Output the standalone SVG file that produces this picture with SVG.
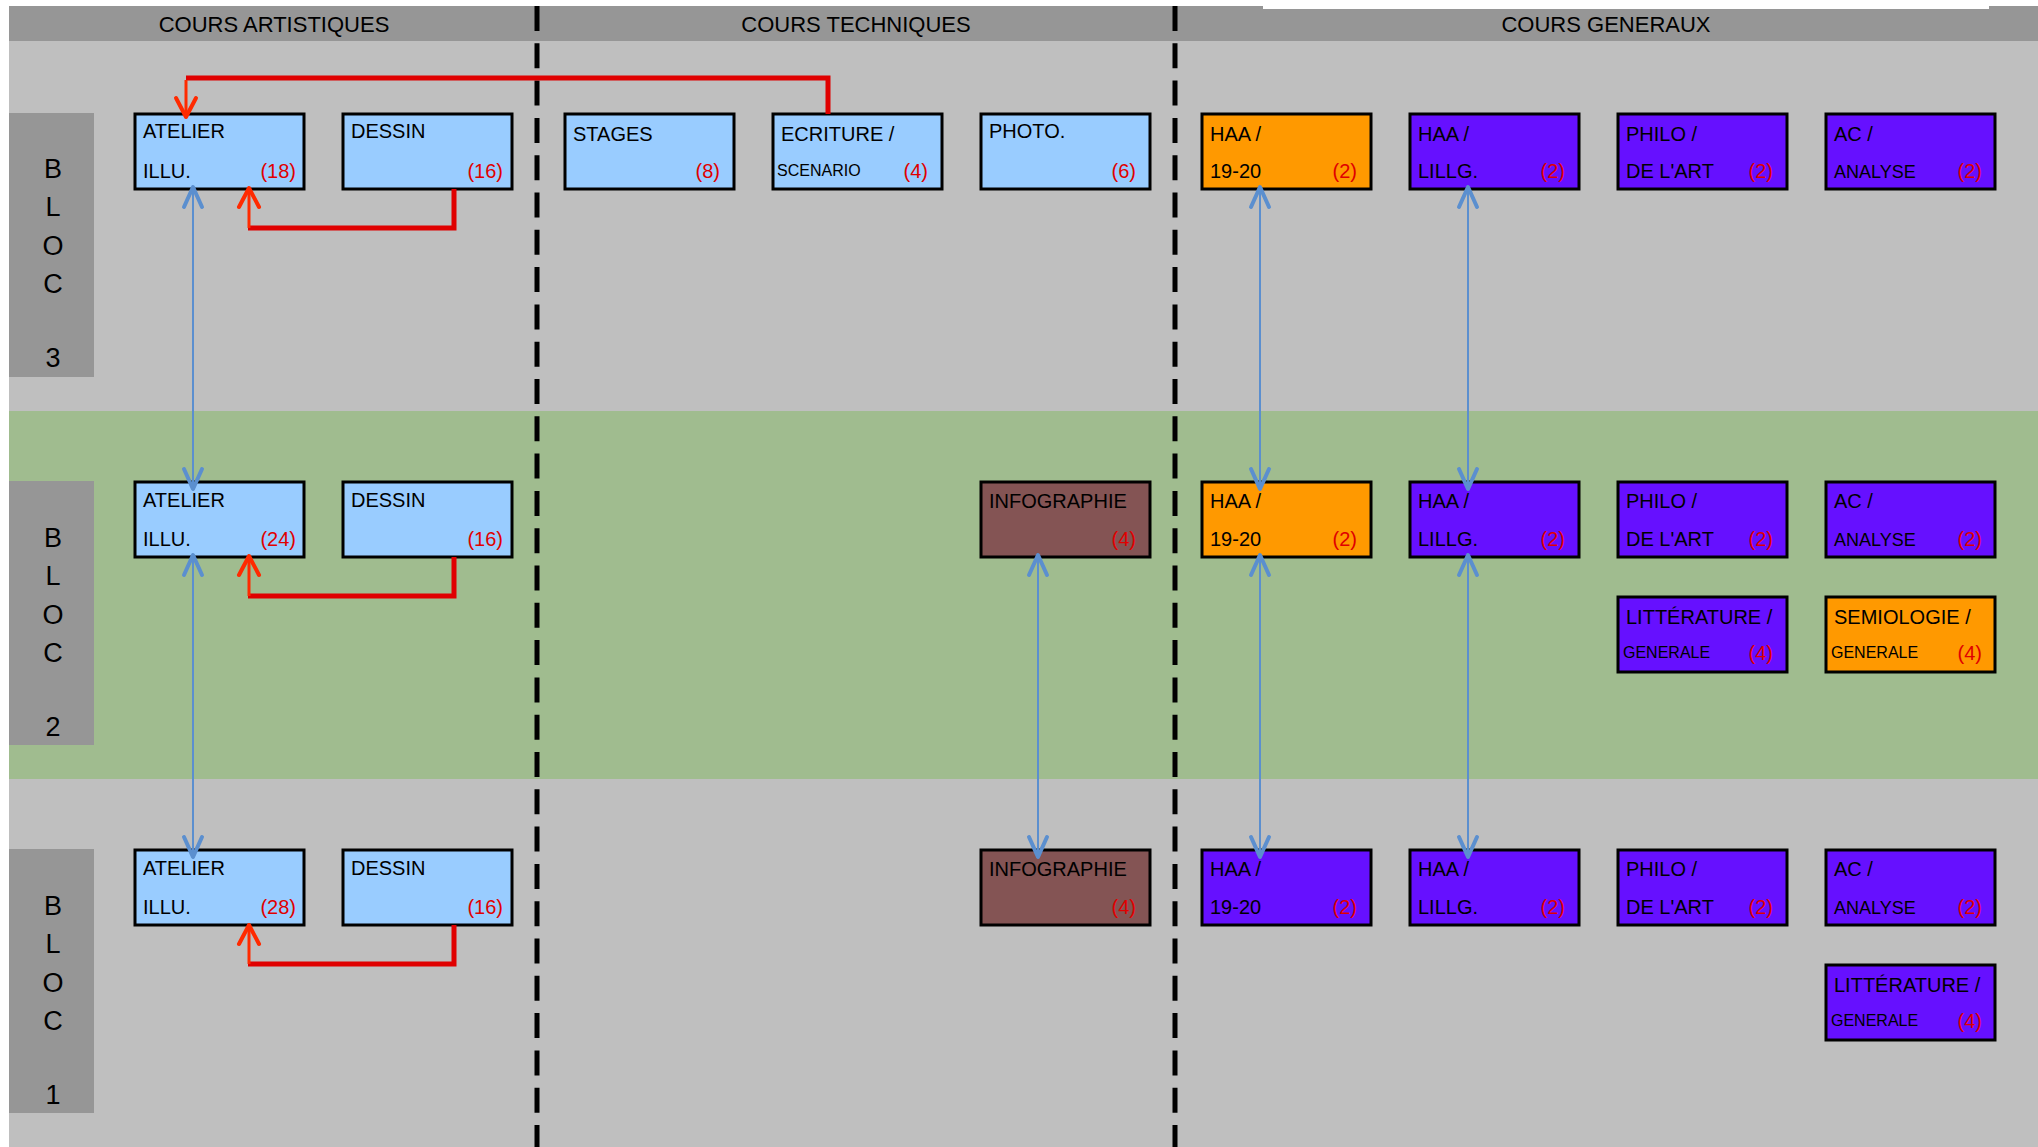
<svg xmlns="http://www.w3.org/2000/svg" width="2038" height="1147" viewBox="0 0 2038 1147">
<style>
text{font-family:"Liberation Sans",Arial,sans-serif;fill:#000}
.hdr{font-size:22px;text-anchor:middle}
.bloc{font-size:27px;text-anchor:middle}
.box{stroke:#000;stroke-width:3}
.lb{fill:#99CCFF}
.or{fill:#FF9900}
.pu{fill:#6610FF}
.br{fill:#845454}
.t{font-size:20px}
.s{font-size:16px}
.m{font-size:18px}
.n{font-size:20px;fill:#E00000;text-anchor:end}
.dash{stroke:#000;stroke-width:5;stroke-dasharray:25 12.3}
.blue{stroke:#5B8FCF;stroke-width:2;fill:none;marker-start:url(#ab);marker-end:url(#ab)}
.red{stroke:#E00000;stroke-width:5;fill:none}
.rarr{stroke:#FF2A00;stroke-width:3;fill:none;marker-end:url(#ar)}
</style>
<defs>
<marker id="ab" markerUnits="userSpaceOnUse" viewBox="-24 -14 28 28" refX="0" refY="0" markerWidth="28" markerHeight="28" orient="auto-start-reverse">
<path d="M-20,-9 L0,0 L-20,9" fill="none" stroke="#5B8FCF" stroke-width="4" stroke-linecap="round" stroke-linejoin="round"/>
</marker>
<marker id="ar" markerUnits="userSpaceOnUse" viewBox="-24 -14 28 28" refX="0" refY="0" markerWidth="28" markerHeight="28" orient="auto">
<path d="M-19,-10 L0,0 L-19,10" fill="none" stroke="#FF2A00" stroke-width="4" stroke-linecap="round" stroke-linejoin="round"/>
</marker>
</defs>

<g id="background">
<rect x="0" y="0" width="2038" height="1147" fill="#FFFFFF"/>
<rect x="9" y="41" width="2029" height="1106" fill="#BFBFBF"/>
<rect x="9" y="411" width="2029" height="368" fill="#A0BC8F"/>
<rect x="9" y="6" width="2029" height="35" fill="#969696"/>
<rect x="1263" y="6" width="726" height="3" fill="#FFFFFF"/>
<text class="hdr" x="274" y="32">COURS ARTISTIQUES</text>
<text class="hdr" x="856" y="32">COURS TECHNIQUES</text>
<text class="hdr" x="1606" y="32">COURS GENERAUX</text>
<line class="dash" x1="537" y1="6" x2="537" y2="1147"/>
<line class="dash" x1="1175" y1="6" x2="1175" y2="1147"/>
</g>

<g id="bloc3">
<rect x="9" y="113" width="85" height="264" fill="#969696"/>
<text class="bloc" x="53" y="178">B</text><text class="bloc" x="53" y="216">L</text><text class="bloc" x="53" y="255">O</text><text class="bloc" x="53" y="293">C</text><text class="bloc" x="53" y="367">3</text>
</g>
<g id="bloc2">
<rect x="9" y="481" width="85" height="264" fill="#969696"/>
<text class="bloc" x="53" y="547">B</text><text class="bloc" x="53" y="585">L</text><text class="bloc" x="53" y="624">O</text><text class="bloc" x="53" y="662">C</text><text class="bloc" x="53" y="736">2</text>
</g>
<g id="bloc1">
<rect x="9" y="849" width="85" height="264" fill="#969696"/>
<text class="bloc" x="53" y="915">B</text><text class="bloc" x="53" y="953">L</text><text class="bloc" x="53" y="992">O</text><text class="bloc" x="53" y="1030">C</text><text class="bloc" x="53" y="1104">1</text>
</g>

<!-- BLOC 3 -->
<g id="b3-atelier"><rect class="box lb" x="135" y="114" width="169" height="75"/><text class="t" x="143" y="138">ATELIER</text><text class="t" x="143" y="178">ILLU.</text><text class="n" x="296" y="178">(18)</text></g>
<g id="b3-dessin"><rect class="box lb" x="343" y="114" width="169" height="75"/><text class="t" x="351" y="138">DESSIN</text><text class="n" x="503" y="178">(16)</text></g>
<g id="b3-stages"><rect class="box lb" x="565" y="114" width="169" height="75"/><text class="t" x="573" y="141">STAGES</text><text class="n" x="720" y="178">(8)</text></g>
<g id="b3-ecriture"><rect class="box lb" x="773" y="114" width="169" height="75"/><text class="t" x="781" y="141">ECRITURE /</text><text class="s" x="777" y="176">SCENARIO</text><text class="n" x="928" y="178">(4)</text></g>
<g id="b3-photo"><rect class="box lb" x="981" y="114" width="169" height="75"/><text class="t" x="989" y="138">PHOTO.</text><text class="n" x="1136" y="178">(6)</text></g>
<g id="b3-haa1920"><rect class="box or" x="1202" y="114" width="169" height="75"/><text class="t" x="1210" y="141">HAA /</text><text class="t" x="1210" y="178">19-20</text><text class="n" x="1357" y="178">(2)</text></g>
<g id="b3-haalillg"><rect class="box pu" x="1410" y="114" width="169" height="75"/><text class="t" x="1418" y="141">HAA /</text><text class="t" x="1418" y="178">LILLG.</text><text class="n" x="1565" y="178">(2)</text></g>
<g id="b3-philo"><rect class="box pu" x="1618" y="114" width="169" height="75"/><text class="t" x="1626" y="141">PHILO /</text><text class="t" x="1626" y="178">DE L'ART</text><text class="n" x="1773" y="178">(2)</text></g>
<g id="b3-ac"><rect class="box pu" x="1826" y="114" width="169" height="75"/><text class="t" x="1834" y="141">AC /</text><text class="m" x="1834" y="178">ANALYSE</text><text class="n" x="1982" y="178">(2)</text></g>

<!-- BLOC 2 -->
<g id="b2-atelier"><rect class="box lb" x="135" y="482" width="169" height="75"/><text class="t" x="143" y="507">ATELIER</text><text class="t" x="143" y="546">ILLU.</text><text class="n" x="296" y="546">(24)</text></g>
<g id="b2-dessin"><rect class="box lb" x="343" y="482" width="169" height="75"/><text class="t" x="351" y="507">DESSIN</text><text class="n" x="503" y="546">(16)</text></g>
<g id="b2-infographie"><rect class="box br" x="981" y="482" width="169" height="75"/><text class="t" x="989" y="508">INFOGRAPHIE</text><text class="n" x="1136" y="546">(4)</text></g>
<g id="b2-haa1920"><rect class="box or" x="1202" y="482" width="169" height="75"/><text class="t" x="1210" y="508">HAA /</text><text class="t" x="1210" y="546">19-20</text><text class="n" x="1357" y="546">(2)</text></g>
<g id="b2-haalillg"><rect class="box pu" x="1410" y="482" width="169" height="75"/><text class="t" x="1418" y="508">HAA /</text><text class="t" x="1418" y="546">LILLG.</text><text class="n" x="1565" y="546">(2)</text></g>
<g id="b2-philo"><rect class="box pu" x="1618" y="482" width="169" height="75"/><text class="t" x="1626" y="508">PHILO /</text><text class="t" x="1626" y="546">DE L'ART</text><text class="n" x="1773" y="546">(2)</text></g>
<g id="b2-ac"><rect class="box pu" x="1826" y="482" width="169" height="75"/><text class="t" x="1834" y="508">AC /</text><text class="m" x="1834" y="546">ANALYSE</text><text class="n" x="1982" y="546">(2)</text></g>
<g id="b2-litterature"><rect class="box pu" x="1618" y="597" width="169" height="75"/><text class="t" x="1626" y="624">LITTÉRATURE /</text><text class="s" x="1623" y="658">GENERALE</text><text class="n" x="1773" y="660">(4)</text></g>
<g id="b2-semiologie"><rect class="box or" x="1826" y="597" width="169" height="75"/><text class="t" x="1834" y="624">SEMIOLOGIE /</text><text class="s" x="1831" y="658">GENERALE</text><text class="n" x="1982" y="660">(4)</text></g>

<!-- BLOC 1 -->
<g id="b1-atelier"><rect class="box lb" x="135" y="850" width="169" height="75"/><text class="t" x="143" y="875">ATELIER</text><text class="t" x="143" y="914">ILLU.</text><text class="n" x="296" y="914">(28)</text></g>
<g id="b1-dessin"><rect class="box lb" x="343" y="850" width="169" height="75"/><text class="t" x="351" y="875">DESSIN</text><text class="n" x="503" y="914">(16)</text></g>
<g id="b1-infographie"><rect class="box br" x="981" y="850" width="169" height="75"/><text class="t" x="989" y="876">INFOGRAPHIE</text><text class="n" x="1136" y="914">(4)</text></g>
<g id="b1-haa1920"><rect class="box pu" x="1202" y="850" width="169" height="75"/><text class="t" x="1210" y="876">HAA /</text><text class="t" x="1210" y="914">19-20</text><text class="n" x="1357" y="914">(2)</text></g>
<g id="b1-haalillg"><rect class="box pu" x="1410" y="850" width="169" height="75"/><text class="t" x="1418" y="876">HAA /</text><text class="t" x="1418" y="914">LILLG.</text><text class="n" x="1565" y="914">(2)</text></g>
<g id="b1-philo"><rect class="box pu" x="1618" y="850" width="169" height="75"/><text class="t" x="1626" y="876">PHILO /</text><text class="t" x="1626" y="914">DE L'ART</text><text class="n" x="1773" y="914">(2)</text></g>
<g id="b1-ac"><rect class="box pu" x="1826" y="850" width="169" height="75"/><text class="t" x="1834" y="876">AC /</text><text class="m" x="1834" y="914">ANALYSE</text><text class="n" x="1982" y="914">(2)</text></g>
<g id="b1-litterature"><rect class="box pu" x="1826" y="965" width="169" height="75"/><text class="t" x="1834" y="992">LITTÉRATURE /</text><text class="s" x="1831" y="1026">GENERALE</text><text class="n" x="1982" y="1028">(4)</text></g>

<g id="connectors">
<line class="blue" x1="193" y1="187" x2="193" y2="489"/>
<line class="blue" x1="193" y1="555" x2="193" y2="857"/>
<line class="blue" x1="1038" y1="555" x2="1038" y2="857"/>
<line class="blue" x1="1260" y1="187" x2="1260" y2="489"/>
<line class="blue" x1="1260" y1="555" x2="1260" y2="857"/>
<line class="blue" x1="1468" y1="187" x2="1468" y2="489"/>
<line class="blue" x1="1468" y1="555" x2="1468" y2="857"/>
<polyline class="red" points="828,114 828,78 186,78"/>
<line class="rarr" x1="186" y1="80" x2="186" y2="117"/>
<polyline class="red" points="454,189 454,228 248,228"/>
<line class="rarr" x1="249" y1="228" x2="249" y2="188"/>
<polyline class="red" points="454,557 454,596 248,596"/>
<line class="rarr" x1="249" y1="596" x2="249" y2="556"/>
<polyline class="red" points="454,925 454,964 248,964"/>
<line class="rarr" x1="249" y1="964" x2="249" y2="925"/>
</g>
</svg>
